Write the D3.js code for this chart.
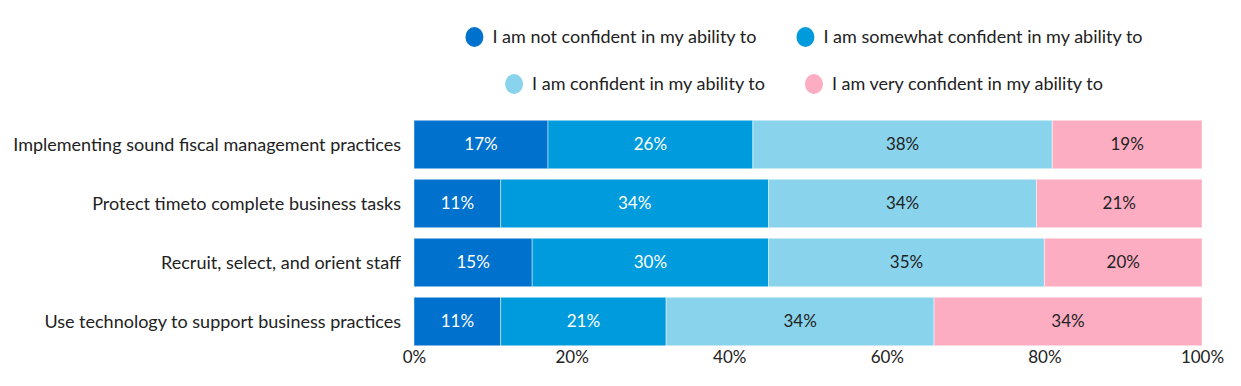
<!DOCTYPE html>
<html>
<head>
<meta charset="utf-8">
<script src="https://cdn.jsdelivr.net/npm/d3@7"></script>
<style>
  body { margin: 0; background: #fff; }
  text { font-family: Lato, "Open Sans", sans-serif; }
</style>
</head>
<body>
<svg id="chart" width="1241" height="386"></svg>
<script>
// data
const categories = [
  "Implementing sound fiscal management practices",
  "Protect timeto complete business tasks",
  "Recruit, select, and orient staff",
  "Use technology to support business practices"
];
const seriesNames = [
  "I am not confident in my ability to",
  "I am somewhat confident in my ability to",
  "I am confident in my ability to",
  "I am very confident in my ability to"
];
const notConfident = [17, 11, 15, 11];
const somewhatConfident = [26, 34, 30, 21];
const confident = [38, 34, 35, 34];
const veryConfident = [19, 21, 20, 34];
const xTicks = [0, 20, 40, 60, 80, 100];

const colors = ["#0071cd", "#009bdc", "#89d4ec", "#fdadc2"];
const labelColors = ["#fff", "#fff", "#222", "#222"];

const rows = categories.map((c, i) => ({
  cat: c,
  s0: notConfident[i], s1: somewhatConfident[i], s2: confident[i], s3: veryConfident[i]
}));
const stacked = d3.stack().keys(["s0", "s1", "s2", "s3"])(rows);

const svg = d3.select("#chart");
const margin = {left: 414, right: 39, top: 115, bottom: 35};
const W = 1241, H = 386;

let x = d3.scaleLinear().domain([0, 100]).range([margin.left, W - margin.right]);
let y = d3.scaleBand().domain(categories).range([margin.top, H - margin.bottom]).paddingInner(0.178).paddingOuter(0.089);

// bars
const layers = svg.append("g").selectAll("g")
  .data(stacked).enter().append("g")
  .attr("fill", (d, i) => colors[i]);

layers.selectAll("rect")
  .data(d => d).enter().append("rect")
  .attr("x", d => x(d[0]))
  .attr("y", d => y(d.data.cat))
  .attr("width", d => x(d[1]) - x(d[0]))
  .attr("height", y.bandwidth())
  .attr("stroke", "#fff")
  .attr("stroke-opacity", 0.45)
  .attr("stroke-width", 1);

// value labels
stacked.forEach((layer, i) => {
  svg.append("g").selectAll("text")
    .data(layer).enter().append("text")
    .attr("x", d => (x(d[0]) + x(d[1])) / 2)
    .attr("y", d => y(d.data.cat) + y.bandwidth() / 2)
    .attr("dy", "0.35em")
    .attr("text-anchor", "middle")
    .attr("fill", labelColors[i])
    .style("font-size", "17px")
    .text(d => (d[1] - d[0]) + "%");
});

// category labels
svg.append("g").selectAll("text")
  .data(categories).enter().append("text")
  .attr("x", margin.left - 13)
  .attr("y", d => y(d) + y.bandwidth() / 2)
  .attr("dy", "0.35em")
  .attr("text-anchor", "end")
  .attr("fill", "#222")
  .style("font-size", "18px")
  .text(d => d);

// x axis
const xAxis = d3.axisBottom(x).tickValues(xTicks).tickFormat(d => d + "%").tickSize(0).tickPadding(6);
const gx = svg.append("g").attr("transform", "translate(0," + 345 + ")").call(xAxis);
gx.select(".domain").remove();
gx.selectAll("text").style("font-size", "17px").attr("fill", "#222").style("font-family", "Lato, sans-serif");

// legend, two centered rows
const legendRows = [[0, 1], [2, 3]];
const legendY = [37, 84];
legendRows.forEach((items, r) => {
  const g = svg.append("g");
  let cx = 0;
  items.forEach((k, j) => {
    const item = g.append("g").attr("transform", "translate(" + cx + ",0)");
    item.append("ellipse").attr("cx", 9).attr("cy", 0).attr("rx", 9).attr("ry", 10).attr("fill", colors[k]);
    const t = item.append("text").attr("x", 27).attr("dy", "0.35em")
      .style("font-size", "18px").attr("fill", "#222").text(seriesNames[k]);
    cx += 27 + t.node().getComputedTextLength() + 40;
  });
  const wTot = cx - 40;
  g.attr("transform", "translate(" + (804 - wTot / 2) + "," + legendY[r] + ")");
});
</script>
</body>
</html>
